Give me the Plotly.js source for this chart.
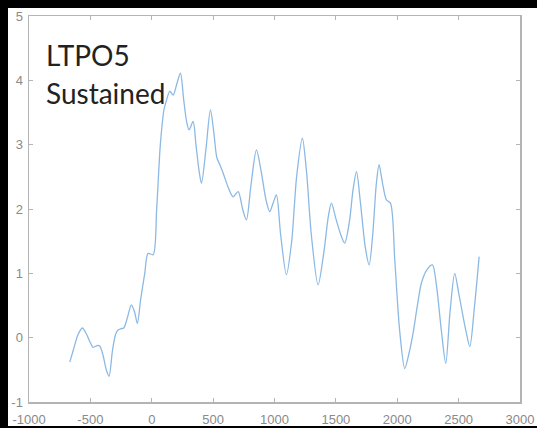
<!DOCTYPE html>
<html>
<head>
<meta charset="utf-8">
<script src="https://cdn.plot.ly/plotly-3.0.1.min.js"></script>
<style>
  html, body { margin: 0; padding: 0; background: #000; width: 537px; height: 428px; overflow: hidden; }
  #chart { position: absolute; left: 8px; top: 8px; width: 529px; height: 418px; background: #fff; }
</style>
</head>
<body>
<div id="chart"></div>
<script>
// Time (ms) and response values
const timeValues = [-668, -640, -600, -565, -530, -500, -478, -440, -424, -400, -370, -348, -320, -295, -274, -250, -228, -200, -166, -140, -117, -90, -57, -30, 11, 40, 70, 100, 114, 147, 174, 205, 234, 260, 285, 304, 337, 360, 385, 405, 440, 478, 505, 530, 554, 587, 620, 662, 704, 740, 771, 810, 853, 890, 930, 961, 990, 1016, 1050, 1097, 1140, 1180, 1227, 1260, 1300, 1355, 1400, 1440, 1464, 1500, 1540, 1572, 1610, 1640, 1668, 1700, 1740, 1771, 1800, 1830, 1852, 1880, 1912, 1945, 1980, 2020, 2061, 2095, 2129, 2160, 2197, 2240, 2287, 2320, 2360, 2395, 2430, 2468, 2500, 2536, 2560, 2591, 2630, 2667];
const responseValues = [-0.38, -0.2, 0.05, 0.15, 0.05, -0.08, -0.15, -0.12, -0.13, -0.25, -0.5, -0.6, -0.2, 0.05, 0.12, 0.14, 0.15, 0.3, 0.51, 0.4, 0.22, 0.6, 1.0, 1.31, 1.29, 2.0, 3.0, 3.55, 3.65, 3.83, 3.77, 3.95, 4.11, 3.7, 3.35, 3.23, 3.36, 3.0, 2.6, 2.4, 2.9, 3.54, 3.2, 2.8, 2.69, 2.53, 2.35, 2.19, 2.27, 2.0, 1.83, 2.4, 2.92, 2.6, 2.15, 1.96, 2.1, 2.22, 1.6, 0.98, 1.5, 2.5, 3.1, 2.6, 1.6, 0.82, 1.3, 1.9, 2.09, 1.85, 1.6, 1.47, 1.8, 2.3, 2.58, 2.1, 1.4, 1.13, 1.6, 2.4, 2.69, 2.4, 2.14, 2.09, 1.2, 0.1, -0.48, -0.25, 0.07, 0.45, 0.85, 1.05, 1.13, 0.8, 0.1, -0.4, 0.4, 1.0, 0.7, 0.33, 0.1, -0.14, 0.5, 1.26];

const xTickVals = [-1000, -500, 0, 500, 1000, 1500, 2000, 2500, 3000];
const xTickText = ["-1000", "-500", "0", "500", "1000", "1500", "2000", "2500", "3000"];
const yTickVals = [-1, 0, 1, 2, 3, 4, 5];
const yTickText = ["-1", "0", "1", "2", "3", "4", "5"];
const labelLines = ["LTPO5", "Sustained"];

const trace = {
  x: timeValues,
  y: responseValues,
  type: 'scatter',
  mode: 'lines',
  line: { color: 'rgb(140,185,228)', width: 1.3, shape: 'spline', smoothing: 0.8 },
  hoverinfo: 'skip'
};

const axisCommon = {
  showline: true, mirror: 'ticks', linecolor: '#b4b4b4', linewidth: 1.5,
  ticks: 'inside', ticklen: 4, tickcolor: '#b4b4b4', tickwidth: 1,
  showgrid: false, zeroline: false,
  tickfont: { family: 'Liberation Sans, Arial, sans-serif', size: 13, color: '#8a8a8a' },
  tickmode: 'array'
};

const layout = {
  width: 529, height: 418,
  margin: { l: 21, r: 17, t: 8, b: 24 },
  paper_bgcolor: '#ffffff', plot_bgcolor: '#ffffff',
  showlegend: false,
  xaxis: Object.assign({}, axisCommon, { range: [-1000, 3000], tickvals: xTickVals, ticktext: xTickText, ticklabelstandoff: 5 }),
  yaxis: Object.assign({}, axisCommon, { range: [-1, 5], tickvals: yTickVals, ticktext: yTickText, ticklabelstandoff: 2 }),
  annotations: [
    { text: labelLines[0], x: -878, y: 4.40, xref: 'x', yref: 'y', xanchor: 'left', yanchor: 'middle', showarrow: false,
      font: { family: 'Lato, Open Sans, sans-serif', size: 28, color: '#222' } },
    { text: labelLines[1], x: -878, y: 3.80, xref: 'x', yref: 'y', xanchor: 'left', yanchor: 'middle', showarrow: false,
      font: { family: 'Lato, Open Sans, sans-serif', size: 28, color: '#222' } }
  ]
};

Plotly.newPlot('chart', [trace], layout, { staticPlot: true, displayModeBar: false });
</script>
</body>
</html>
